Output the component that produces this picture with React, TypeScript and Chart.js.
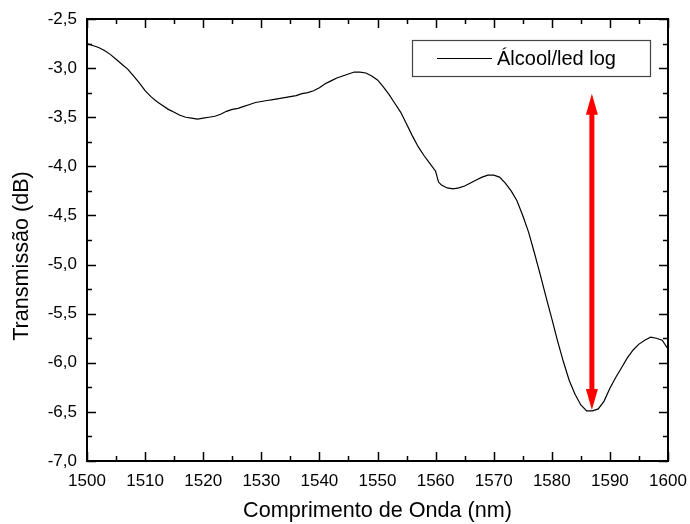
import React, { useEffect, useRef } from "react";
import { Chart, registerables } from "chart.js";

Chart.register(...registerables);

const wavelengths: number[] = [
  1500, 1501, 1502, 1503, 1504, 1505, 1506, 1507, 1508, 1509,
  1510, 1511, 1512, 1513, 1514, 1515, 1516, 1517, 1518, 1519,
  1520, 1521, 1522, 1523, 1524, 1525, 1526, 1527, 1528, 1529,
  1530, 1531, 1532, 1533, 1534, 1535, 1536, 1537, 1538, 1539,
  1540, 1541, 1542, 1543, 1544, 1545, 1546, 1547, 1548, 1549,
  1550, 1551, 1552, 1553, 1554, 1555, 1556, 1557, 1558, 1559,
  1560, 1560.5, 1561, 1562, 1563, 1564, 1565, 1566, 1567, 1568, 1569,
  1570, 1571, 1572, 1573, 1574, 1575, 1576, 1577, 1578, 1579,
  1580, 1581, 1582, 1583, 1584, 1585, 1586, 1587, 1588, 1589,
  1590, 1591, 1592, 1593, 1594, 1595, 1596, 1597, 1598, 1599, 1600,
];

const transmission: number[] = [
  -2.75, -2.77, -2.79, -2.82, -2.86, -2.91, -2.96, -3.01, -3.08, -3.15,
  -3.23, -3.29, -3.34, -3.38, -3.42, -3.45, -3.48, -3.5, -3.51, -3.52,
  -3.51, -3.5, -3.49, -3.47, -3.44, -3.42, -3.41, -3.39, -3.37, -3.35,
  -3.34, -3.33, -3.32, -3.31, -3.3, -3.29, -3.28, -3.26, -3.25, -3.23,
  -3.2, -3.16, -3.13, -3.1, -3.08, -3.06, -3.04, -3.04, -3.05, -3.08,
  -3.12, -3.19, -3.27, -3.36, -3.45, -3.57, -3.69, -3.8, -3.89, -3.97,
  -4.05, -4.16, -4.19, -4.22, -4.23, -4.22, -4.2, -4.17, -4.14, -4.11, -4.09,
  -4.09, -4.11, -4.17, -4.25, -4.35, -4.5, -4.67, -4.88, -5.1, -5.33,
  -5.55, -5.78, -5.99, -6.18, -6.32, -6.43, -6.49, -6.49, -6.47, -6.39,
  -6.26, -6.15, -6.05, -5.95, -5.87, -5.81, -5.77, -5.74, -5.75, -5.77, -5.86,
];

const seriesLabel = "Álcool/led log";
const xTitle = "Comprimento de Onda (nm)";
const yTitle = "Transmissão (dB)";

// arrow annotation (data coordinates)
const arrowX: number[] = [1586.9, 1586.9];
const arrowY: number[] = [-3.26, -6.48];

const xMin = 1500;
const xMax = 1600;
const yMin = -7.0;
const yMax = -2.5;

const FONT = "'Liberation Sans', Arial, Helvetica, sans-serif";

const framePlugin = {
  id: "framePlugin",
  afterDraw(chart: any) {
    const { ctx, chartArea: a, scales } = chart;
    const xs = scales.x;
    const ys = scales.y;
    ctx.save();
    // ticks
    ctx.strokeStyle = "#000";
    ctx.lineWidth = 1.5;
    for (let v = xMin; v <= xMax + 0.001; v += 5) {
      const px = Math.round(xs.getPixelForValue(v)) + 0.5;
      const len = Math.round(v) % 10 === 0 ? 9 : 5;
      ctx.beginPath();
      ctx.moveTo(px, a.bottom);
      ctx.lineTo(px, a.bottom - len);
      ctx.moveTo(px, a.top);
      ctx.lineTo(px, a.top + len);
      ctx.stroke();
    }
    for (let v = yMin; v <= yMax + 0.001; v += 0.25) {
      const py = Math.round(ys.getPixelForValue(v)) + 0.5;
      const major = Math.abs(v * 2 - Math.round(v * 2)) < 0.001;
      const len = major ? 9 : 5;
      ctx.beginPath();
      ctx.moveTo(a.left, py);
      ctx.lineTo(a.left + len, py);
      ctx.moveTo(a.right, py);
      ctx.lineTo(a.right - len, py);
      ctx.stroke();
    }
    // frame
    ctx.lineWidth = 2;
    ctx.strokeRect(a.left, a.top, a.right - a.left, a.bottom - a.top);

    // arrow
    const ax = xs.getPixelForValue(arrowX[0]);
    const ayTop = ys.getPixelForValue(arrowY[0]);
    const ayBot = ys.getPixelForValue(arrowY[1]);
    const headLen = 21;
    const headW = 12;
    ctx.fillStyle = "#ff0000";
    ctx.strokeStyle = "#ff0000";
    ctx.lineWidth = 5;
    ctx.beginPath();
    ctx.moveTo(ax, ayTop + headLen - 1);
    ctx.lineTo(ax, ayBot - headLen + 1);
    ctx.stroke();
    ctx.beginPath();
    ctx.moveTo(ax, ayTop);
    ctx.lineTo(ax - headW / 2, ayTop + headLen);
    ctx.lineTo(ax + headW / 2, ayTop + headLen);
    ctx.closePath();
    ctx.fill();
    ctx.beginPath();
    ctx.moveTo(ax, ayBot);
    ctx.lineTo(ax - headW / 2, ayBot - headLen);
    ctx.lineTo(ax + headW / 2, ayBot - headLen);
    ctx.closePath();
    ctx.fill();

    // legend
    const lx = 412, ly = 40, lw = 238, lh = 36;
    ctx.fillStyle = "#fff";
    ctx.fillRect(lx, ly, lw, lh);
    ctx.strokeStyle = "#444";
    ctx.lineWidth = 1.2;
    ctx.strokeRect(lx + 0.5, ly + 0.5, lw, lh);
    ctx.strokeStyle = "#000";
    ctx.lineWidth = 1;
    ctx.beginPath();
    ctx.moveTo(437, ly + lh / 2 + 0.5);
    ctx.lineTo(492, ly + lh / 2 + 0.5);
    ctx.stroke();
    ctx.fillStyle = "#000";
    ctx.font = `20px ${FONT}`;
    ctx.textBaseline = "middle";
    ctx.textAlign = "left";
    ctx.fillText(seriesLabel, 497, ly + lh / 2 + 1);

    // y title
    ctx.save();
    ctx.translate(22, 256);
    ctx.rotate(-Math.PI / 2);
    ctx.font = `21.6px ${FONT}`;
    ctx.textAlign = "center";
    ctx.textBaseline = "middle";
    ctx.fillStyle = "#000";
    ctx.fillText(yTitle, 0, 0);
    ctx.restore();

    ctx.restore();
  },
};

export default function App() {
  const ref = useRef<HTMLCanvasElement | null>(null);

  useEffect(() => {
    if (!ref.current) return;
    const data = wavelengths.map((w, i) => ({ x: w, y: transmission[i] }));
    const chart = new Chart(ref.current, {
      type: "line",
      data: {
        datasets: [
          {
            label: seriesLabel,
            data,
            borderColor: "#000",
            borderWidth: 1.2,
            pointRadius: 0,
            tension: 0,
            fill: false,
          },
        ],
      },
      options: {
        animation: false,
        responsive: true,
        maintainAspectRatio: false,
        layout: { padding: { top: 19, right: 22, left: 0, bottom: 0 } },
        plugins: {
          legend: { display: false },
          tooltip: { enabled: false },
        },
        scales: {
          x: {
            type: "linear",
            min: xMin,
            max: xMax,
            grid: { display: false, drawTicks: false },
            border: { display: false },
            ticks: {
              stepSize: 10,
              padding: 10,
              color: "#000",
              font: { size: 17, family: FONT },
              maxRotation: 0,
              autoSkip: false,
              callback: (v: any) => String(Math.round(Number(v))),
            },
            title: {
              display: true,
              text: xTitle,
              color: "#000",
              font: { size: 21.6, family: FONT },
              padding: { top: 0, bottom: 0 },
            },
            afterFit(scale: any) {
              scale.height = 63;
              scale.paddingLeft = 0;
              scale.paddingRight = 0;
            },
          },
          y: {
            type: "linear",
            min: yMin,
            max: yMax,
            grid: { display: false, drawTicks: false },
            border: { display: false },
            ticks: {
              stepSize: 0.5,
              padding: 10,
              color: "#000",
              font: { size: 17, family: FONT },
              callback: (v: any) => Number(v).toFixed(1).replace(".", ","),
            },
            afterFit(scale: any) {
              scale.width = 87;
              scale.paddingTop = 0;
              scale.paddingBottom = 0;
            },
          },
        },
      },
      plugins: [framePlugin],
    });
    return () => chart.destroy();
  }, []);

  return (
    <div style={{ position: "absolute", left: 0, top: 0, width: 690, height: 524, background: "#fff" }}>
      <canvas ref={ref} />
    </div>
  );
}
